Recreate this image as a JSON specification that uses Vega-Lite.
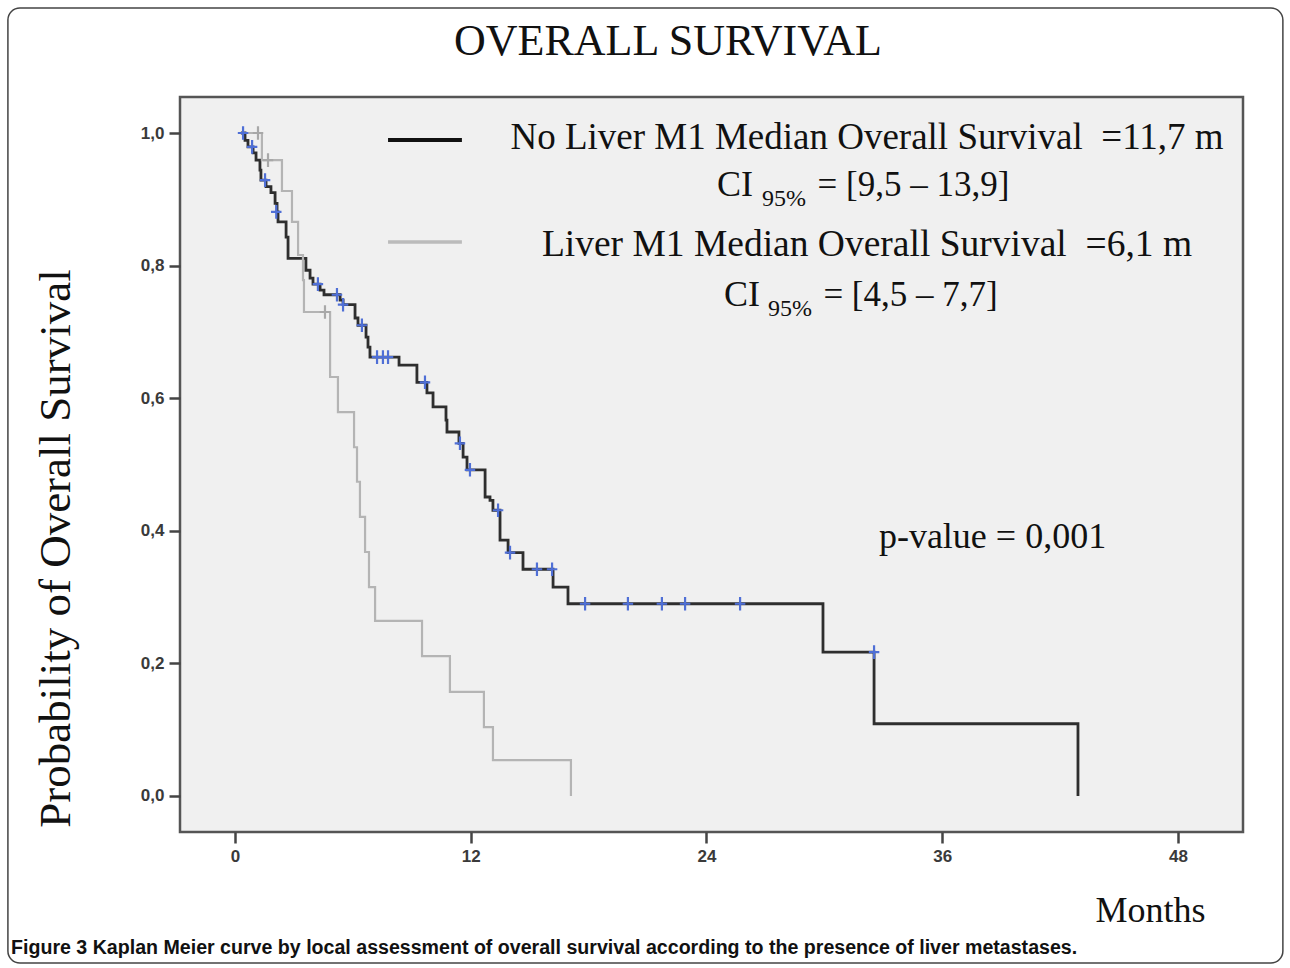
{
  "$schema": "https://vega.github.io/schema/vega-lite/v6.json",
  "width": 1063,
  "height": 735,
  "autosize": {"type": "none"},
  "padding": {"left": 180, "top": 97, "right": 47, "bottom": 136},
  "background": "white",
  "config": {
    "view": {"fill": "#f0f0f0", "stroke": "#555555", "strokeWidth": 2.5}
  },
  "datasets": {
    "one": [{}],
    "km": [
      {"group": "No Liver M1", "t": 0.3, "s": 1.0},
      {"group": "No Liver M1", "t": 0.51, "s": 0.989},
      {"group": "No Liver M1", "t": 0.66, "s": 0.979},
      {"group": "No Liver M1", "t": 0.92, "s": 0.970},
      {"group": "No Liver M1", "t": 1.07, "s": 0.959},
      {"group": "No Liver M1", "t": 1.27, "s": 0.944},
      {"group": "No Liver M1", "t": 1.32, "s": 0.929},
      {"group": "No Liver M1", "t": 1.58, "s": 0.919},
      {"group": "No Liver M1", "t": 1.83, "s": 0.910},
      {"group": "No Liver M1", "t": 2.04, "s": 0.894},
      {"group": "No Liver M1", "t": 2.14, "s": 0.881},
      {"group": "No Liver M1", "t": 2.19, "s": 0.866},
      {"group": "No Liver M1", "t": 2.60, "s": 0.843},
      {"group": "No Liver M1", "t": 2.70, "s": 0.811},
      {"group": "No Liver M1", "t": 3.61, "s": 0.793},
      {"group": "No Liver M1", "t": 3.82, "s": 0.781},
      {"group": "No Liver M1", "t": 3.97, "s": 0.772},
      {"group": "No Liver M1", "t": 4.33, "s": 0.763},
      {"group": "No Liver M1", "t": 4.53, "s": 0.756},
      {"group": "No Liver M1", "t": 5.35, "s": 0.748},
      {"group": "No Liver M1", "t": 5.50, "s": 0.741},
      {"group": "No Liver M1", "t": 6.11, "s": 0.721},
      {"group": "No Liver M1", "t": 6.26, "s": 0.710},
      {"group": "No Liver M1", "t": 6.67, "s": 0.692},
      {"group": "No Liver M1", "t": 6.77, "s": 0.677},
      {"group": "No Liver M1", "t": 6.87, "s": 0.662},
      {"group": "No Liver M1", "t": 8.35, "s": 0.650},
      {"group": "No Liver M1", "t": 9.26, "s": 0.624},
      {"group": "No Liver M1", "t": 9.77, "s": 0.608},
      {"group": "No Liver M1", "t": 10.08, "s": 0.587},
      {"group": "No Liver M1", "t": 10.74, "s": 0.567},
      {"group": "No Liver M1", "t": 10.79, "s": 0.549},
      {"group": "No Liver M1", "t": 11.40, "s": 0.532},
      {"group": "No Liver M1", "t": 11.61, "s": 0.511},
      {"group": "No Liver M1", "t": 11.81, "s": 0.492},
      {"group": "No Liver M1", "t": 12.73, "s": 0.451},
      {"group": "No Liver M1", "t": 12.98, "s": 0.446},
      {"group": "No Liver M1", "t": 13.13, "s": 0.431},
      {"group": "No Liver M1", "t": 13.49, "s": 0.386},
      {"group": "No Liver M1", "t": 13.90, "s": 0.367},
      {"group": "No Liver M1", "t": 14.66, "s": 0.342},
      {"group": "No Liver M1", "t": 16.19, "s": 0.315},
      {"group": "No Liver M1", "t": 16.95, "s": 0.290},
      {"group": "No Liver M1", "t": 29.93, "s": 0.217},
      {"group": "No Liver M1", "t": 32.53, "s": 0.109},
      {"group": "No Liver M1", "t": 42.91, "s": 0.0},
      {"group": "Liver M1", "t": 0.3, "s": 1.0},
      {"group": "Liver M1", "t": 1.37, "s": 0.959},
      {"group": "Liver M1", "t": 2.39, "s": 0.9125},
      {"group": "Liver M1", "t": 2.90, "s": 0.866},
      {"group": "Liver M1", "t": 3.21, "s": 0.816},
      {"group": "Liver M1", "t": 3.46, "s": 0.778},
      {"group": "Liver M1", "t": 3.51, "s": 0.730},
      {"group": "Liver M1", "t": 4.84, "s": 0.632},
      {"group": "Liver M1", "t": 5.24, "s": 0.579},
      {"group": "Liver M1", "t": 6.06, "s": 0.526},
      {"group": "Liver M1", "t": 6.21, "s": 0.474},
      {"group": "Liver M1", "t": 6.36, "s": 0.421},
      {"group": "Liver M1", "t": 6.62, "s": 0.368},
      {"group": "Liver M1", "t": 6.82, "s": 0.315},
      {"group": "Liver M1", "t": 7.13, "s": 0.264},
      {"group": "Liver M1", "t": 9.52, "s": 0.211},
      {"group": "Liver M1", "t": 10.94, "s": 0.157},
      {"group": "Liver M1", "t": 12.67, "s": 0.104},
      {"group": "Liver M1", "t": 13.13, "s": 0.054},
      {"group": "Liver M1", "t": 17.10, "s": 0.0}
    ],
    "censor": [
      {"group": "No Liver M1", "t": 0.41, "s": 1.0},
      {"group": "No Liver M1", "t": 0.87, "s": 0.979},
      {"group": "No Liver M1", "t": 1.53, "s": 0.929},
      {"group": "No Liver M1", "t": 2.10, "s": 0.881},
      {"group": "No Liver M1", "t": 4.22, "s": 0.772},
      {"group": "No Liver M1", "t": 5.19, "s": 0.756},
      {"group": "No Liver M1", "t": 5.50, "s": 0.741},
      {"group": "No Liver M1", "t": 6.46, "s": 0.710},
      {"group": "No Liver M1", "t": 7.23, "s": 0.662},
      {"group": "No Liver M1", "t": 7.53, "s": 0.662},
      {"group": "No Liver M1", "t": 7.79, "s": 0.662},
      {"group": "No Liver M1", "t": 9.67, "s": 0.624},
      {"group": "No Liver M1", "t": 11.45, "s": 0.532},
      {"group": "No Liver M1", "t": 11.96, "s": 0.492},
      {"group": "No Liver M1", "t": 13.39, "s": 0.431},
      {"group": "No Liver M1", "t": 14.00, "s": 0.367},
      {"group": "No Liver M1", "t": 15.37, "s": 0.342},
      {"group": "No Liver M1", "t": 16.14, "s": 0.342},
      {"group": "No Liver M1", "t": 17.82, "s": 0.290},
      {"group": "No Liver M1", "t": 20.00, "s": 0.290},
      {"group": "No Liver M1", "t": 21.73, "s": 0.290},
      {"group": "No Liver M1", "t": 22.91, "s": 0.290},
      {"group": "No Liver M1", "t": 25.71, "s": 0.290},
      {"group": "No Liver M1", "t": 32.53, "s": 0.217},
      {"group": "Liver M1", "t": 1.17, "s": 1.0},
      {"group": "Liver M1", "t": 1.68, "s": 0.959},
      {"group": "Liver M1", "t": 4.58, "s": 0.730}
    ]
  },
  "layer": [
    {
      "data": {"name": "one"},
      "mark": {"type": "rect", "fill": null, "stroke": "#444444", "strokeWidth": 1.5, "cornerRadius": 12},
      "encoding": {
        "x": {"datum": -11.56, "type": "quantitative"},
        "x2": {"datum": 53.34},
        "y": {"datum": 1.1885, "type": "quantitative"},
        "y2": {"datum": -0.2519}
      }
    },
    {
      "data": {"name": "km"},
      "mark": {"type": "line", "interpolate": "step-after"},
      "encoding": {
        "x": {
          "field": "t", "type": "quantitative",
          "scale": {"domain": [-2.80, 51.31], "nice": false, "zero": false},
          "axis": {
            "values": [0, 12, 24, 36, 48], "domain": false, "grid": false,
            "tickSize": 11, "tickWidth": 2.5, "tickColor": "#444444",
            "labelFont": "Liberation Sans", "labelFontSize": 17, "labelFontWeight": "bold", "labelColor": "#3a3a3a", "labelPadding": 5,
            "title": "Months", "titleFont": "Liberation Serif", "titleFontSize": 36, "titleFontWeight": "normal", "titleColor": "#111111",
            "titleX": 970, "titleY": 78, "titleAlign": "center", "titleBaseline": "middle"
          }
        },
        "y": {
          "field": "s", "type": "quantitative",
          "scale": {"domain": [-0.0543, 1.0543], "nice": false, "zero": false},
          "axis": {
            "values": [0, 0.2, 0.4, 0.6, 0.8, 1.0], "domain": false, "grid": false,
            "labelExpr": "replace(format(datum.value, '.1f'), '.', ',')",
            "tickSize": 11, "tickWidth": 2.5, "tickColor": "#444444",
            "labelFont": "Liberation Sans", "labelFontSize": 17, "labelFontWeight": "bold", "labelColor": "#3a3a3a", "labelPadding": 5,
            "title": "Probability of Overall Survival", "titleFont": "Liberation Serif", "titleFontSize": 45, "titleFontWeight": "normal", "titleColor": "#111111",
            "titleX": -125, "titleY": 451, "titleAngle": -90, "titleAlign": "center", "titleBaseline": "middle"
          }
        },
        "color": {"field": "group", "type": "nominal", "scale": {"domain": ["No Liver M1", "Liver M1"], "range": ["#2e2e2e", "#b4b4b4"]}, "legend": null},
        "strokeWidth": {"field": "group", "type": "nominal", "scale": {"domain": ["No Liver M1", "Liver M1"], "range": [2.8, 2.2]}, "legend": null}
      }
    },
    {
      "data": {"name": "censor"},
      "mark": {"type": "point", "shape": "M-1,0L1,0M0,-1.3L0,1.3", "filled": false, "strokeWidth": 2.2, "size": 110, "opacity": 1},
      "encoding": {
        "x": {"field": "t", "type": "quantitative"},
        "y": {"field": "s", "type": "quantitative"},
        "stroke": {"field": "group", "type": "nominal", "scale": {"domain": ["No Liver M1", "Liver M1"], "range": ["#4f6fd6", "#a8a8a8"]}, "legend": null}
      }
    },
    {
      "data": {"name": "one"},
      "mark": {"type": "rule", "stroke": "#111111", "strokeWidth": 4},
      "encoding": {"x": {"datum": 7.79, "type": "quantitative"}, "x2": {"datum": 11.55}, "y": {"datum": 0.9894, "type": "quantitative"}}
    },
    {
      "data": {"name": "one"},
      "mark": {"type": "rule", "stroke": "#bbbbbb", "strokeWidth": 3.5},
      "encoding": {"x": {"datum": 7.79, "type": "quantitative"}, "x2": {"datum": 11.55}, "y": {"datum": 0.8356, "type": "quantitative"}}
    },
    {
      "data": {"name": "one"},
      "mark": {"type": "text", "font": "Liberation Serif", "fontSize": 44, "align": "center", "baseline": "middle", "color": "#111111"},
      "encoding": {"x": {"datum": 22.04, "type": "quantitative"}, "y": {"datum": 1.1373, "type": "quantitative"}, "text": {"value": "OVERALL SURVIVAL"}}
    },
    {
      "data": {"name": "one"},
      "mark": {"type": "text", "font": "Liberation Serif", "fontSize": 37, "align": "center", "baseline": "middle", "color": "#111111"},
      "encoding": {"x": {"datum": 32.17, "type": "quantitative"}, "y": {"datum": 0.9925, "type": "quantitative"}, "text": {"value": "No Liver M1 Median Overall Survival \u00a0=11,7 m"}}
    },
    {
      "data": {"name": "one"},
      "mark": {"type": "text", "font": "Liberation Serif", "fontSize": 36, "align": "right", "baseline": "middle", "color": "#111111"},
      "encoding": {"x": {"datum": 26.37, "type": "quantitative"}, "y": {"datum": 0.9216, "type": "quantitative"}, "text": {"value": "CI"}}
    },
    {
      "data": {"name": "one"},
      "mark": {"type": "text", "font": "Liberation Serif", "fontSize": 24, "align": "left", "baseline": "middle", "color": "#111111"},
      "encoding": {"x": {"datum": 26.83, "type": "quantitative"}, "y": {"datum": 0.9005, "type": "quantitative"}, "text": {"value": "95%"}}
    },
    {
      "data": {"name": "one"},
      "mark": {"type": "text", "font": "Liberation Serif", "fontSize": 35, "align": "left", "baseline": "middle", "color": "#111111"},
      "encoding": {"x": {"datum": 29.65, "type": "quantitative"}, "y": {"datum": 0.9216, "type": "quantitative"}, "text": {"value": "= [9,5 – 13,9]"}}
    },
    {
      "data": {"name": "one"},
      "mark": {"type": "text", "font": "Liberation Serif", "fontSize": 37.5, "align": "center", "baseline": "middle", "color": "#111111"},
      "encoding": {"x": {"datum": 32.17, "type": "quantitative"}, "y": {"datum": 0.8311, "type": "quantitative"}, "text": {"value": "Liver M1 Median Overall Survival \u00a0=6,1 m"}}
    },
    {
      "data": {"name": "one"},
      "mark": {"type": "text", "font": "Liberation Serif", "fontSize": 36, "align": "right", "baseline": "middle", "color": "#111111"},
      "encoding": {"x": {"datum": 26.72, "type": "quantitative"}, "y": {"datum": 0.7557, "type": "quantitative"}, "text": {"value": "CI"}}
    },
    {
      "data": {"name": "one"},
      "mark": {"type": "text", "font": "Liberation Serif", "fontSize": 24, "align": "left", "baseline": "middle", "color": "#111111"},
      "encoding": {"x": {"datum": 27.13, "type": "quantitative"}, "y": {"datum": 0.7346, "type": "quantitative"}, "text": {"value": "95%"}}
    },
    {
      "data": {"name": "one"},
      "mark": {"type": "text", "font": "Liberation Serif", "fontSize": 35, "align": "left", "baseline": "middle", "color": "#111111"},
      "encoding": {"x": {"datum": 29.95, "type": "quantitative"}, "y": {"datum": 0.7557, "type": "quantitative"}, "text": {"value": "= [4,5 – 7,7]"}}
    },
    {
      "data": {"name": "one"},
      "mark": {"type": "text", "font": "Liberation Serif", "fontSize": 36, "align": "center", "baseline": "middle", "color": "#111111"},
      "encoding": {"x": {"datum": 38.56, "type": "quantitative"}, "y": {"datum": 0.3906, "type": "quantitative"}, "text": {"value": "p-value = 0,001"}}
    },
    {
      "data": {"name": "one"},
      "mark": {"type": "text", "font": "Liberation Sans", "fontSize": 19.6, "fontWeight": "bold", "align": "left", "baseline": "middle", "color": "#111111"},
      "encoding": {"x": {"datum": -11.40, "type": "quantitative"}, "y": {"datum": -0.229, "type": "quantitative"}, "text": {"value": "Figure 3 Kaplan Meier curve by local assessment of overall survival according to the presence of liver metastases."}}
    }
  ]
}
